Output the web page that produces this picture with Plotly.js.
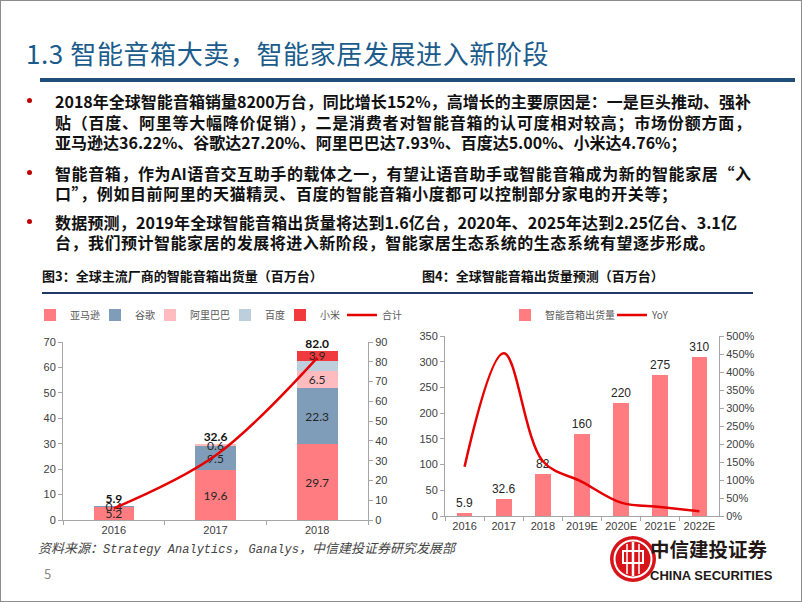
<!DOCTYPE html>
<html>
<head>
<meta charset="utf-8">
<script src="https://cdn.plot.ly/plotly-3.0.1.min.js"></script>
<style>
body{margin:0;background:#fff;}
#page{position:relative;width:802px;height:602px;overflow:hidden;font-family:"Noto Sans CJK SC",sans-serif;}
#chart{position:absolute;left:0;top:0;width:802px;height:602px;}
#frame{position:absolute;left:0;top:0;width:800px;height:600px;border:1px solid #8c8c8c;pointer-events:none;}
.ov{position:absolute;pointer-events:none;}
.ln{position:absolute;left:55px;height:20px;line-height:20px;font-size:16px;color:#111;font-weight:bold;white-space:normal;}
.just{text-align:justify;text-align-last:justify;}
.last{white-space:nowrap;}
.dot{position:absolute;left:27px;width:5px;height:5px;border-radius:50%;background:#c00000;}
.ctitle{position:absolute;top:267px;height:18px;line-height:18px;font-size:13px;font-weight:bold;color:#111;white-space:nowrap;}
</style>
</head>
<body>
<div id="page">
  <div id="chart"></div>

  <div class="ov" style="left:26px;top:36px;height:34px;line-height:34px;font-size:26px;letter-spacing:0.6px;color:#1b5c8c;white-space:nowrap;">1.3 智能音箱大卖，智能家居发展进入新阶段</div>
  <div class="ov" style="left:40px;top:78px;width:755px;height:4px;background:#1f4e79;"></div>

  <div class="dot" style="top:98px;"></div>
  <div class="ln just" style="top:91px;width:696px;">2018年全球智能音箱销量8200万台，同比增长152%，高增长的主要原因是：一是巨头推动、强补</div>
  <div class="ln just" style="top:112px;width:696px;">贴（百度、阿里等大幅降价促销），二是消费者对智能音箱的认可度相对较高；市场份额方面，</div>
  <div class="ln last" style="top:132px;">亚马逊达36.22%、谷歌达27.20%、阿里巴巴达7.93%、百度达5.00%、小米达4.76%；</div>

  <div class="dot" style="top:170px;"></div>
  <div class="ln just" style="top:163px;width:696px;">智能音箱，作为AI语音交互助手的载体之一，有望让语音助手或智能音箱成为新的智能家居“入</div>
  <div class="ln just" style="top:183px;width:622px;">口”，例如目前阿里的天猫精灵、百度的智能音箱小度都可以控制部分家电的开关等；</div>

  <div class="dot" style="top:219px;"></div>
  <div class="ln just" style="top:212px;width:682px;">数据预测，2019年全球智能音箱出货量将达到1.6亿台，2020年、2025年达到2.25亿台、3.1亿</div>
  <div class="ln just" style="top:232px;width:660px;">台，我们预计智能家居的发展将进入新阶段，智能家居生态系统的生态系统有望逐步形成。</div>

  <div class="ctitle" style="left:42px;">图3：全球主流厂商的智能音箱出货量（百万台）</div>
  <div class="ctitle" style="left:422px;">图4：全球智能音箱出货量预测（百万台）</div>
  <div class="ov" style="left:42px;top:292px;width:711px;height:2px;background:#1f3864;"></div>

  <div class="ov" style="left:38px;top:539px;height:18px;line-height:18px;font-size:13px;font-style:italic;color:#444;white-space:nowrap;">资料来源：<span style="font-family:'Liberation Mono',monospace;font-size:12px;">Strategy Analytics</span>， <span style="font-family:'Liberation Mono',monospace;font-size:12px;">Ganalys</span>，中信建投证券研究发展部</div>
  <div class="ov" style="left:44px;top:565px;height:18px;line-height:18px;font-size:13px;color:#888;">5</div>

  <svg class="ov" style="left:608px;top:534px;" width="50" height="50" viewBox="0 0 50 50">
    <circle cx="25" cy="25" r="23" fill="#d7141a"/>
    <circle cx="25" cy="25" r="18.5" fill="none" stroke="#fff" stroke-width="2"/>
    <rect x="15" y="17" width="20" height="12" fill="none" stroke="#fff" stroke-width="2"/>
    <line x1="25" y1="8" x2="25" y2="42" stroke="#fff" stroke-width="2.5"/>
    <line x1="19" y1="10" x2="19" y2="40" stroke="#fff" stroke-width="1.5"/>
    <line x1="31" y1="10" x2="31" y2="40" stroke="#fff" stroke-width="1.5"/>
  </svg>
  <div class="ov" style="left:650px;top:536px;height:26px;line-height:26px;font-size:19.5px;font-weight:bold;color:#231815;white-space:nowrap;">中信建投证券</div>
  <div class="ov" style="left:650px;top:567px;height:18px;line-height:18px;font-size:13px;font-weight:bold;font-family:'Liberation Sans Narrow','Liberation Sans',Arial,sans-serif;color:#231815;white-space:nowrap;">CHINA SECURITIES</div>

  <div id="frame"></div>
</div>

<script>
// figure 3: shipments by vendor (million units)
var yearsA = ['2016', '2017', '2018'];
var amazon = [5.2, 19.6, 29.7];
var google = [0.4, 9.5, 22.3];
var alibaba = [null, 0.6, 6.5];
var baidu = [null, null, 4.1];
var xiaomi = [null, null, 3.9];
var totalA = [5.9, 32.6, 82.0];

// figure 4: global shipments forecast (million units) and yoy growth
var yearsB = ['2016', '2017', '2018', '2019E', '2020E', '2021E', '2022E'];
var shipments = [5.9, 32.6, 82, 160, 220, 275, 310];
var yoy = [1.37, 4.52, 1.52, 0.95, 0.37, 0.25, 0.13];

var W = 802, H = 602;
function fx(p) { return p / W; }
function fy(p) { return 1 - p / H; }

var labelFont = {family: 'Lato, Arial, sans-serif', size: 12, color: '#262626'};

function seg(name, vals, color, labels, lw) {
  return {
    type: 'bar', name: name, x: yearsA, y: vals,
    xaxis: 'x', yaxis: 'y', legend: 'legend', legendwidth: lw,
    marker: {color: color},
    text: labels ? vals.map(function (v) { return v == null ? '' : v.toFixed(1); }) : null,
    textposition: labels ? 'inside' : 'none',
    insidetextanchor: 'middle',
    constraintext: 'none',
    textfont: labelFont,
    hoverinfo: 'skip'
  };
}

var stackTop = yearsA.map(function (_, i) {
  return [amazon, google, alibaba, baidu, xiaomi].reduce(function (s, arr) { return s + (arr[i] || 0); }, 0);
});

var data = [
  seg('亚马逊', amazon, '#ff7c80', true, 20),
  seg('谷歌', google, '#7f9db9', true, 10),
  seg('阿里巴巴', alibaba, '#ffbcc0', true, 30),
  seg('百度', baidu, '#bdcedd', false, 10),
  seg('小米', xiaomi, '#f03a3e', true, 17),
  {
    type: 'scatter', mode: 'lines', name: '合计', x: yearsA, y: totalA,
    xaxis: 'x', yaxis: 'y2', legend: 'legend', legendwidth: 20,
    line: {color: '#e60000', width: 2.5, shape: 'spline'},
    hoverinfo: 'skip'
  },
  {
    type: 'scatter', mode: 'text', x: yearsA, y: stackTop,
    xaxis: 'x', yaxis: 'y', showlegend: false, cliponaxis: false,
    text: totalA.map(function (v) { return '<b>' + v.toFixed(1) + '</b>'; }),
    textposition: 'top center',
    textfont: {family: 'Lato, Arial, sans-serif', size: 12, color: '#111'},
    hoverinfo: 'skip'
  },
  {
    type: 'bar', name: '智能音箱出货量', x: yearsB, y: shipments,
    xaxis: 'x2', yaxis: 'y3', legend: 'legend2', legendwidth: 62,
    marker: {color: '#ff7c80'},
    text: shipments.map(String), textposition: 'outside', cliponaxis: false,
    constraintext: 'none',
    textfont: {family: 'Arial, sans-serif', size: 12, color: '#262626'},
    hoverinfo: 'skip'
  },
  {
    type: 'scatter', mode: 'lines', name: 'YoY', x: yearsB, y: yoy,
    xaxis: 'x2', yaxis: 'y4', legend: 'legend2', legendwidth: 20,
    line: {color: '#e60000', width: 2.5, shape: 'spline'},
    hoverinfo: 'skip'
  }
];

var tickFont = {family: 'Arial, sans-serif', size: 11, color: '#404040'};
var axisBase = {
  showline: true, linecolor: '#a6a6a6', linewidth: 1,
  ticks: 'outside', ticklen: 4, tickcolor: '#a6a6a6',
  showgrid: false, zeroline: false, tickfont: tickFont, fixedrange: true
};
function ax(extra) { return Object.assign({}, axisBase, extra); }

var legendFont = {family: '"Noto Sans CJK SC", sans-serif', size: 10, color: '#595959'};

var layout = {
  width: W, height: H,
  margin: {l: 0, r: 0, t: 0, b: 0},
  paper_bgcolor: '#fff', plot_bgcolor: 'rgba(0,0,0,0)',
  barmode: 'stack', bargap: 0.6,
  showlegend: true,
  xaxis: ax({domain: [fx(63), fx(368)], type: 'category', tickson: 'boundaries', tickangle: 0, anchor: 'y'}),
  yaxis: ax({domain: [fy(520), fy(342)], range: [0, 70], dtick: 10, anchor: 'x'}),
  yaxis2: ax({overlaying: 'y', side: 'right', anchor: 'x', range: [0, 90], dtick: 10}),
  xaxis2: ax({domain: [fx(445), fx(719)], type: 'category', tickson: 'boundaries', tickangle: 0, anchor: 'y3'}),
  yaxis3: ax({domain: [fy(516), fy(336)], range: [0, 350], dtick: 50, anchor: 'x2'}),
  yaxis4: ax({overlaying: 'y3', side: 'right', anchor: 'x2', range: [0, 5], dtick: 0.5, tickformat: '.0%'}),
  legend: {
    orientation: 'h', x: fx(30), xanchor: 'left', y: fy(315), yanchor: 'middle',
    font: legendFont, bgcolor: 'rgba(0,0,0,0)', traceorder: 'normal', itemwidth: 30
  },
  legend2: {
    orientation: 'h', x: fx(505), xanchor: 'left', y: fy(315), yanchor: 'middle',
    font: legendFont, bgcolor: 'rgba(0,0,0,0)', traceorder: 'normal', itemwidth: 30
  }
};

Plotly.newPlot('chart', data, layout, {displayModeBar: false, staticPlot: true});
</script>
</body>
</html>
